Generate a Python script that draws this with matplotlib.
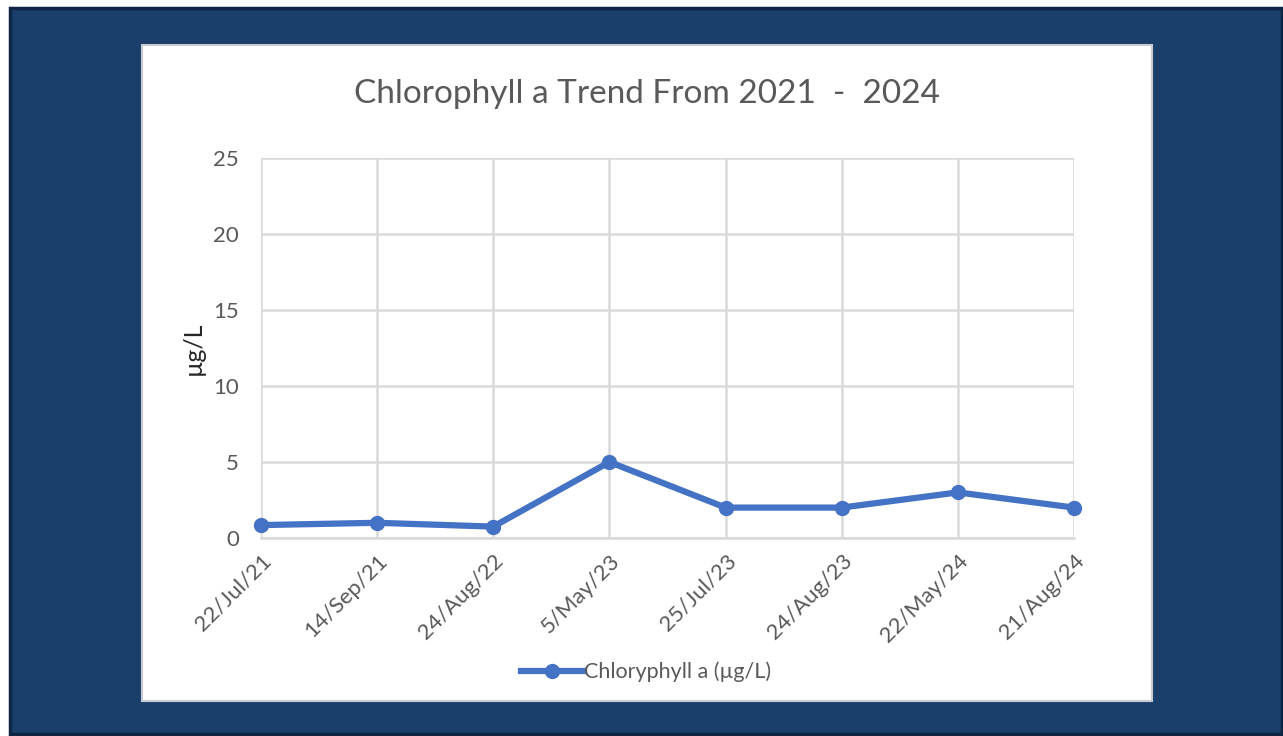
import matplotlib
matplotlib.use("Agg")
import matplotlib.pyplot as plt
from matplotlib.patches import Rectangle

dates = ["22/Jul/21", "14/Sep/21", "24/Aug/22", "5/May/23",
         "25/Jul/23", "24/Aug/23", "22/May/24", "21/Aug/24"]
chlorophyll = [0.85, 1.0, 0.75, 5.0, 2.0, 2.0, 3.0, 2.0]
y_ticks = [0, 5, 10, 15, 20, 25]

W, H = 1283, 736
fig = plt.figure(figsize=(W / 100, H / 100), dpi=100)
fig.patch.set_facecolor("white")
plt.rcParams["font.family"] = ["Lato", "DejaVu Sans"]

def fx(px):
    return px / W

def fy(py):
    return 1 - py / H

# navy slide background with a dark edge
fig.patches.append(Rectangle((fx(10), fy(734)), fx(1272), 1 - fy(726), transform=fig.transFigure,
                             facecolor="#1a3f6b", edgecolor="#0e2544", linewidth=2.5, zorder=0))
# white chart panel
fig.patches.append(Rectangle((fx(142), fy(701)), fx(1010), fy(45) - fy(701), transform=fig.transFigure,
                             facecolor="white", edgecolor="#c8ccd2", linewidth=1.5, zorder=1))

ax = fig.add_axes([fx(261), fy(538), fx(1074 - 261), fy(158) - fy(538)])
ax.set_zorder(2)
ax.set_facecolor("none")

x = list(range(len(dates)))
ax.plot(x, chlorophyll, color="#4472C4", linewidth=4.5, marker="o", markersize=10,
        solid_joinstyle="round", clip_on=False, zorder=3, label="Chloryphyll a (µg/L)")

ax.set_xlim(0, len(dates) - 1)
ax.set_ylim(0, 25)
ax.set_yticks(y_ticks)
ax.set_xticks(x)
ax.set_xticklabels(dates, rotation=45, ha="right", rotation_mode="anchor")
ax.grid(True, color="#d9d9d9", linewidth=1.8)
ax.set_axisbelow(True)
for side in ["top", "right", "left"]:
    ax.spines[side].set_visible(False)
ax.spines["bottom"].set_color("#d9d9d9")
ax.spines["bottom"].set_linewidth(1.8)
ax.tick_params(axis="both", length=0, labelsize=16, colors="#595959")
ax.tick_params(axis="y", pad=16)
ax.tick_params(axis="x", pad=9)

ax.set_ylabel("µg/L", fontsize=18, color="#262626", labelpad=6)

fig.text(fx(647), fy(94), "Chlorophyll a Trend From 2021  -  2024", ha="center", va="center",
         fontsize=24, color="#595959")

leg = fig.legend(loc="center", bbox_to_anchor=(fx(646), fy(672)), frameon=False,
                 fontsize=15.5, handlelength=2.9, handletextpad=0.05)
for t in leg.get_texts():
    t.set_color("#595959")

fig.savefig("out.png", dpi=100, facecolor=fig.get_facecolor())
